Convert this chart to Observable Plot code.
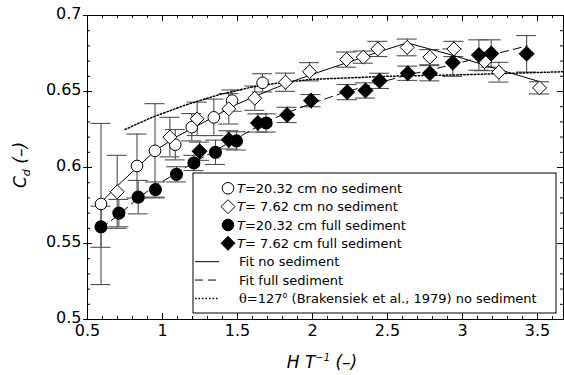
<!DOCTYPE html>
<html>
<head>
<meta charset="utf-8">
<script src="https://cdn.jsdelivr.net/npm/d3@7"></script>
<script src="https://cdn.jsdelivr.net/npm/@observablehq/plot@0.6"></script>
<style>
  html, body { margin: 0; padding: 0; background: #fff; }
  #chart { width: 564px; height: 375px; }
  svg { font-family: "DejaVu Sans", sans-serif; }
</style>
</head>
<body>
<div id="chart"></div>
<script>
// ---- data ----
const xTicks = [0.5, 1, 1.5, 2, 2.5, 3, 3.5];
const yTicks = [0.5, 0.55, 0.6, 0.65, 0.7];

// T=20.32 cm no sediment (open circles)
const c20noX = [0.59, 0.83, 0.95, 1.085, 1.195, 1.342, 1.464, 1.667];
const c20noY = [0.576, 0.601, 0.611, 0.615, 0.6265, 0.633, 0.644, 0.6557];
const c20noE = [0.053, 0.021, 0.031, 0.010, 0.009, 0.012, 0.007, 0.006];

// T=7.62 cm no sediment (open diamonds)
const d7noX = [0.698, 1.049, 1.231, 1.442, 1.615, 1.82, 1.98, 2.227, 2.338, 2.435, 2.631, 2.782, 2.942, 3.147, 3.242, 3.513];
const d7noY = [0.584, 0.620, 0.632, 0.6386, 0.6456, 0.6561, 0.663, 0.671, 0.6726, 0.678, 0.679, 0.6726, 0.678, 0.6697, 0.6627, 0.6524];
const d7noE = [0.024, 0.013, 0.011, 0.010, 0.008, 0.006, 0.006, 0.005, 0.004, 0.005, 0.0055, 0.005, 0.005, 0.006, 0.0065, 0.004];

// T=20.32 cm full sediment (filled circles)
const c20fullX = [0.59, 0.709, 0.838, 0.953, 1.093, 1.209, 1.353, 1.493, 1.691];
const c20fullY = [0.561, 0.570, 0.5805, 0.5855, 0.5955, 0.603, 0.610, 0.6175, 0.6293];
const c20fullE = [0.0135, 0.009, 0.011, 0.005, 0.005, 0.005, 0.008, 0.006, 0.006];

// T=7.62 cm full sediment (filled diamonds)
const d7fullX = [1.247, 1.442, 1.636, 1.831, 1.99, 2.231, 2.353, 2.447, 2.635, 2.782, 2.935, 3.109, 3.191, 3.427];
const d7fullY = [0.6107, 0.6182, 0.6293, 0.6346, 0.644, 0.6496, 0.6507, 0.657, 0.662, 0.662, 0.669, 0.674, 0.675, 0.6748];
const d7fullE = [0.006, 0.006, 0.006, 0.005, 0.004, 0.005, 0.005, 0.005, 0.0047, 0.005, 0.009, 0.010, 0.009, 0.012];

// Fit no sediment (solid)
const fitNoX = [0.59, 0.70, 0.83, 0.95, 1.09, 1.20, 1.34, 1.46, 1.62, 1.82, 1.99, 2.23, 2.44, 2.63, 2.94, 3.24, 3.51];
const fitNoY = [0.577, 0.588, 0.600, 0.611, 0.620, 0.626, 0.633, 0.640, 0.647, 0.655, 0.661, 0.669, 0.676, 0.682, 0.6737, 0.6645, 0.6566];

// Fit full sediment (dashed)
const fitFullX = [0.59, 0.71, 0.84, 0.95, 1.09, 1.21, 1.35, 1.49, 1.69, 1.83, 1.99, 2.23, 2.45, 2.64, 2.78, 2.94, 3.11, 3.43];
const fitFullY = [0.560, 0.569, 0.580, 0.588, 0.596, 0.6035, 0.611, 0.619, 0.630, 0.636, 0.642, 0.650, 0.656, 0.661, 0.664, 0.668, 0.672, 0.680];

// theta=127 deg (Brakensiek et al., 1979) no sediment (dotted)
const brakX = [0.75, 0.93, 1.15, 1.38, 1.6, 1.8, 2.0, 2.5, 3.0, 3.67];
const brakY = [0.625, 0.633, 0.641, 0.648, 0.653, 0.656, 0.658, 0.660, 0.661, 0.663];

const legendLabels = [
  ["T", "=20.32 cm no sediment"],
  ["T", "= 7.62 cm no sediment"],
  ["T", "=20.32 cm full sediment"],
  ["T", "= 7.62 cm full sediment"],
  ["", "Fit no sediment"],
  ["", "Fit full sediment"],
  ["", "=127° (Brakensiek et al., 1979) no sediment"]
];

// ---- build tables ----
const pts = (xs, ys, es) => xs.map((x, i) => ({x, y: ys[i], e: es ? es[i] : 0}));
const c20no = pts(c20noX, c20noY, c20noE);
const d7no = pts(d7noX, d7noY, d7noE);
const c20full = pts(c20fullX, c20fullY, c20fullE);
const d7full = pts(d7fullX, d7fullY, d7fullE);
const allPts = [...c20no, ...d7no, ...c20full, ...d7full];
const fitNo = pts(fitNoX, fitNoY);
const fitFull = pts(fitFullX, fitFullY);
const brak = pts(brakX, brakY);

const W = 564, H = 375, mL = 87, mR = 1, mT = 15, mB = 56;
const pw = W - mL - mR, ph = H - mT - mB;
const xDomain = [0.5, 3.673];
const yDomain = [0.5, 0.7];
const capHalf = 10 * (xDomain[1] - xDomain[0]) / pw;

const xMinor = d3.range(5, 37).map(i => i / 10);
const yMinor = d3.range(50, 71).map(i => i / 100);

const errColor = "#505050";
const fmt = d => String(d);

const chart = Plot.plot({
  width: W, height: H,
  marginLeft: mL, marginRight: mR, marginTop: mT, marginBottom: mB,
  x: {domain: xDomain},
  y: {domain: yDomain},
  style: {fontFamily: "DejaVu Sans, sans-serif", background: "white", color: "black"},
  marks: [
    // error bars
    Plot.ruleX(allPts, {x: "x", y1: d => d.y - d.e, y2: d => d.y + d.e, stroke: errColor, strokeWidth: 1.1}),
    Plot.ruleY(allPts, {y: d => d.y - d.e, x1: d => d.x - capHalf, x2: d => d.x + capHalf, stroke: errColor, strokeWidth: 1.1}),
    Plot.ruleY(allPts, {y: d => d.y + d.e, x1: d => d.x - capHalf, x2: d => d.x + capHalf, stroke: errColor, strokeWidth: 1.1}),
    // fits
    Plot.line(fitNo, {x: "x", y: "y", stroke: "black", strokeWidth: 1}),
    Plot.line(fitFull, {x: "x", y: "y", stroke: "black", strokeWidth: 1, strokeDasharray: "8,5"}),
    Plot.line(brak, {x: "x", y: "y", stroke: "black", strokeWidth: 1.5, strokeDasharray: "1.5,2"}),
    // markers
    Plot.dot(c20no, {x: "x", y: "y", r: 5.8, symbol: "circle", fill: "white", stroke: "black", strokeWidth: 1}),
    Plot.dot(d7no, {x: "x", y: "y", r: 6.3, symbol: "diamond2", fill: "white", stroke: "black", strokeWidth: 1}),
    Plot.dot(c20full, {x: "x", y: "y", r: 5.8, symbol: "circle", fill: "black", stroke: "black"}),
    Plot.dot(d7full, {x: "x", y: "y", r: 6.3, symbol: "diamond2", fill: "black", stroke: "black"}),
    // frame ticks (inward)
    Plot.tickX(xMinor, {x: d => d, insetTop: ph - 3, stroke: "black"}),
    Plot.tickX(xMinor, {x: d => d, insetBottom: ph - 3, stroke: "black"}),
    Plot.tickX(xTicks, {x: d => d, insetTop: ph - 6, stroke: "black"}),
    Plot.tickX(xTicks, {x: d => d, insetBottom: ph - 6, stroke: "black"}),
    Plot.tickY(yMinor, {y: d => d, insetRight: pw - 3, stroke: "black"}),
    Plot.tickY(yMinor, {y: d => d, insetLeft: pw - 3, stroke: "black"}),
    Plot.tickY(yTicks, {y: d => d, insetLeft: -4, insetRight: pw - 5, stroke: "black"}),
    Plot.tickY(yTicks, {y: d => d, insetLeft: pw - 6, stroke: "black"}),
    Plot.frame({stroke: "black", strokeWidth: 1}),
    // tick labels
    Plot.axisX(xTicks, {tickSize: 0, tickPadding: 5, fontSize: 16, label: null, tickFormat: fmt}),
    Plot.axisY(yTicks, {tickSize: 0, tickPadding: 6, dy: -2, fontSize: 16, label: null, tickFormat: fmt})
  ]
});

document.getElementById("chart").appendChild(chart);

// ---- axis titles and legend ----
const svg = d3.select(chart);
const ff = "DejaVu Sans, sans-serif";

const xt = svg.append("text")
  .attr("x", 322).attr("y", 368)
  .attr("text-anchor", "middle")
  .attr("font-family", ff).attr("font-size", 17).attr("font-style", "italic")
  .attr("fill", "black");
xt.append("tspan").text("H T");
xt.append("tspan").attr("dy", -7).attr("font-size", 10).text("−1");
xt.append("tspan").attr("dy", 7).text(" (–)");

const yt = svg.append("text")
  .attr("transform", "translate(26,165) rotate(-90)")
  .attr("text-anchor", "middle")
  .attr("font-family", ff).attr("font-size", 17).attr("font-style", "italic")
  .attr("fill", "black");
yt.append("tspan").text("C");
yt.append("tspan").attr("dy", 4).attr("font-size", 11).text("d");
yt.append("tspan").attr("dy", -4).text(" (–)");

const lg = svg.append("g");
lg.append("rect").attr("x", 193).attr("y", 173).attr("width", 363).attr("height", 140)
  .attr("fill", "white").attr("stroke", "black").attr("stroke-width", 1);

const rowY = i => 188.3 + i * 18.35;
const symX = 228;
const circ = d3.symbol(d3.symbolCircle, Math.PI * 5.8 * 5.8)();
const diam = d3.symbol(d3.symbolDiamond2, Math.PI * 6.3 * 6.3)();
const syms = [[circ, "white"], [diam, "white"], [circ, "black"], [diam, "black"]];
syms.forEach(([p, f], i) => {
  lg.append("path").attr("d", p).attr("transform", `translate(${symX},${rowY(i)})`)
    .attr("fill", f).attr("stroke", "black").attr("stroke-width", 1);
});
[[null, 1], ["8,5", 1], ["1.5,2", 1.5]].forEach(([dash, sw], k) => {
  const ln = lg.append("line").attr("x1", 195).attr("x2", 219).attr("y1", rowY(4 + k)).attr("y2", rowY(4 + k))
    .attr("stroke", "black").attr("stroke-width", sw);
  if (dash) ln.attr("stroke-dasharray", dash);
});
legendLabels.forEach(([it, rest], i) => {
  const t = lg.append("text").attr("x", i < 4 ? 237 : 239).attr("y", rowY(i)).attr("dy", "0.36em")
    .attr("text-anchor", "start")
    .attr("font-family", ff).attr("font-size", 13).attr("fill", "black");
  if (i === 6) {
    t.append("tspan").attr("font-family", "DejaVu Serif, serif").text("θ");
    t.append("tspan").text("=127");
    t.append("tspan").attr("dy", -5).attr("font-size", 8).text("o");
    t.append("tspan").attr("dy", 5).text(" (Brakensiek et al., 1979) no sediment");
  } else {
    if (it) t.append("tspan").attr("font-style", "italic").text(it);
    t.append("tspan").text(rest);
  }
});
</script>
</body>
</html>
